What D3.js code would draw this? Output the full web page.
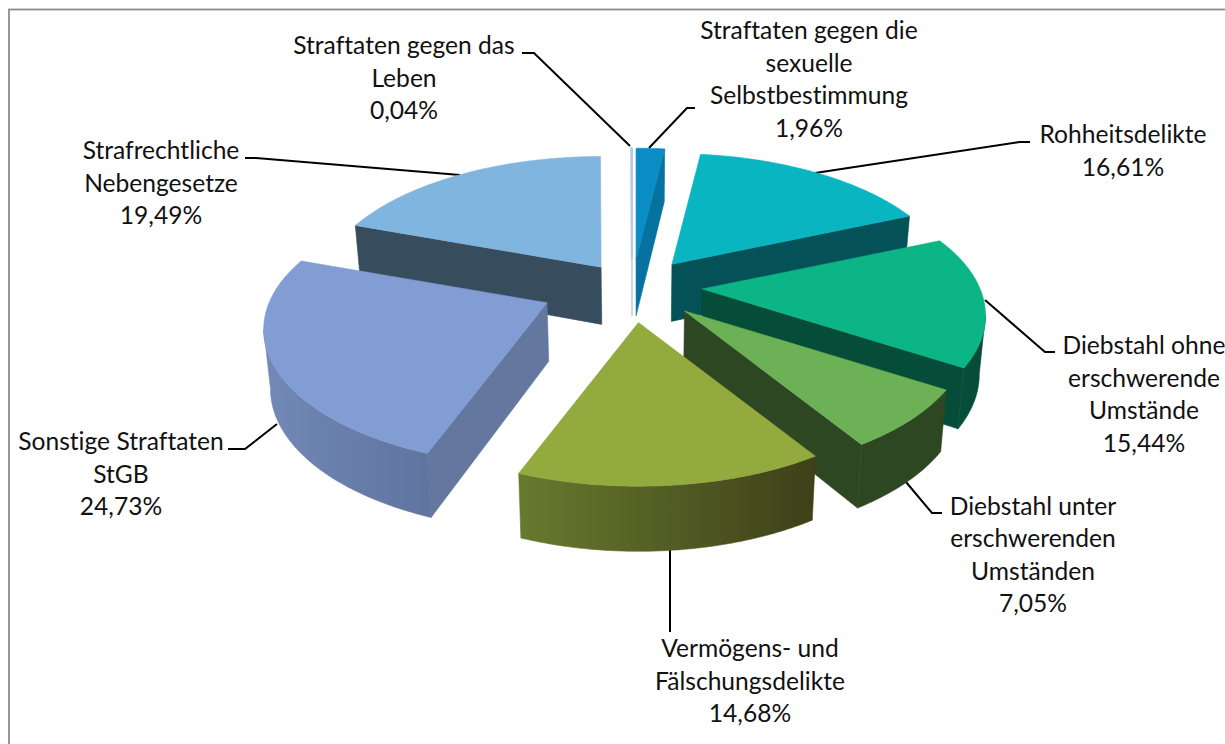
<!DOCTYPE html>
<html lang="de">
<head>
<meta charset="utf-8">
<title>Straftaten</title>
<script src="https://cdn.jsdelivr.net/npm/d3@7"></script>
<style>
html,body{margin:0;padding:0;background:#fff;overflow:hidden}
svg{display:block}
text{font-family:Lato,"Open Sans",sans-serif;font-size:24.6px;fill:#111;font-variant-ligatures:none}
</style>
</head>
<body>
<svg id="chart" width="1225" height="744"></svg>
<script>
// ---- data ----
const categories = [
  "Straftaten gegen die sexuelle Selbstbestimmung",
  "Rohheitsdelikte",
  "Diebstahl ohne erschwerende Umstände",
  "Diebstahl unter erschwerenden Umständen",
  "Vermögens- und Fälschungsdelikte",
  "Sonstige Straftaten StGB",
  "Strafrechtliche Nebengesetze",
  "Straftaten gegen das Leben"
];
const shares = [1.96, 16.61, 15.44, 7.05, 14.68, 24.73, 19.49, 0.04];
const shareLabels = ["1,96%","16,61%","15,44%","7,05%","14,68%","24,73%","19,49%","0,04%"];
const labelLines = [
  ["Straftaten gegen die","sexuelle","Selbstbestimmung"],
  ["Rohheitsdelikte"],
  ["Diebstahl ohne","erschwerende","Umstände"],
  ["Diebstahl unter","erschwerenden","Umständen"],
  ["Vermögens- und","Fälschungsdelikte"],
  ["Sonstige Straftaten","StGB"],
  ["Strafrechtliche","Nebengesetze"],
  ["Straftaten gegen das","Leben"]
];

// ---- styling and layout ----
const topColors  = ["#0a8cc4","#08b5c1","#0cb585","#6cb155","#92aa3e","#829cd4","#80b5df","#b4c8e8"];
const faceColors = ["#0672a0","#045158","#054c39","#2d4723","#5a6a28","#64789f","#374c5d","#c8d6ec"];
const wallLeft   = ["#0672a0","#045158","#054c39","#2d4723","#677a2e","#7389b6","#374c5d","#c8d6ec"];
const wallRight  = ["#0672a0","#045158","#054c39","#2d4723","#3e4019","#5f749f","#374c5d","#c8d6ec"];
const explodeX = [.82, .83, .88, .93, .8, 1.17, .67, 1];
const explodeY = [.85, .85, 1.17, 1.10, 1.15, 1.25, .72, .85];
const labelCentre = [809,1123,1144,1033,750,121,161,404];
const labelTop    = [39,143,354,514.5,657,450,159,54];
const leaders = [
  [[695,108],[687,108],[649,148]],
  [[1030,142],[1020,142],[815,173]],
  [[1055,352],[1045,352],[985,300]],
  [[942,513],[932,513],[906,482]],
  [[670,550],[670,632]],
  [[228,449],[245,449],[277,424]],
  [[245,158],[256,158],[460,175]],
  [[522,53],[534,53],[630,146]]
];
const centre = {x:632, y:286}, explode = {x:80, y:32};
const radius = {x:278, y:132}, persp = 0.193;
const lineStep = 32.5;

// ---- geometry ----
const svg = d3.select("#chart");
const pie = d3.pie().sort(null).value(d => d);
const arcs = pie(shares);

function apexOf(arc, i){
  const mid = (arc.startAngle + arc.endAngle) / 2;
  return [centre.x + explode.x * explodeX[i] * Math.sin(mid),
          centre.y - explode.y * explodeY[i] * Math.cos(mid)];
}
function rimPoint(apex, a){
  const w = 1 + persp * Math.cos(a);
  return [apex[0] + radius.x * Math.sin(a) / w, apex[1] - radius.y * Math.cos(a) / w];
}
function lower(p){
  return [p[0] - (p[0] - 640) * 0.018, p[1] + 53 + 0.036 * (p[1] - 150)];
}
const poly = d3.line();

// ---- frame ----
svg.append("rect").attr("x",9).attr("y",9.5).attr("width",1400).attr("height",900)
  .attr("fill","none").attr("stroke","#8c8c8c").attr("stroke-width",1.8);

// ---- leader lines ----
svg.append("g").selectAll("path").data(leaders).join("path")
  .attr("d", d => poly(d)).attr("fill","none").attr("stroke","#000").attr("stroke-width",2);

// ---- slices, back to front ----
const defs = svg.append("defs");
const order = d3.range(arcs.length).sort((a,b) => {
  const ma = (arcs[a].startAngle + arcs[a].endAngle) / 2;
  const mb = (arcs[b].startAngle + arcs[b].endAngle) / 2;
  return d3.descending(Math.cos(ma), Math.cos(mb));
});
const slices = svg.append("g");

order.forEach(i => {
  const arc = arcs[i], apex = apexOf(arc, i);
  const g = slices.append("g").attr("data-name", categories[i]);
  const n = Math.max(2, Math.ceil((arc.endAngle - arc.startAngle) / 0.01));
  const angles = d3.range(n + 1).map(k => arc.startAngle + (arc.endAngle - arc.startAngle) * k / n);
  const rim = angles.map(a => rimPoint(apex, a));

  // cut faces that look towards the viewer
  const thin = i === 7;
  [[arc.startAngle, arc.startAngle - Math.PI/2], [arc.endAngle, arc.endAngle + Math.PI/2]].forEach(([a, normal]) => {
    if (Math.cos(normal) >= 0 && !thin) return;
    const c = rimPoint(apex, a);
    g.append("path").attr("d", poly([apex, c, lower(c), lower(apex)]) + "Z")
      .attr("fill", faceColors[i])
      .attr("stroke", faceColors[i]).attr("stroke-width", thin ? 1.6 : 0.6);
  });

  // outer wall: only the part of the rim that faces the viewer
  const front = rim.filter((p, k) => (k < n && rim[k+1][0] < p[0]) || (k > 0 && p[0] < rim[k-1][0]));
  if (front.length > 1 && !thin) {
    const id = "wall" + i;
    const xs = d3.extent(front, p => p[0]);
    const grad = defs.append("linearGradient").attr("id", id)
      .attr("gradientUnits","userSpaceOnUse")
      .attr("x1", xs[0]).attr("x2", xs[1]).attr("y1",0).attr("y2",0);
    grad.append("stop").attr("offset",0).attr("stop-color", wallLeft[i]);
    grad.append("stop").attr("offset",1).attr("stop-color", wallRight[i]);
    g.append("path").attr("d", poly(front.concat(front.map(lower).reverse())) + "Z")
      .attr("fill", `url(#${id})`).attr("stroke", `url(#${id})`).attr("stroke-width",0.6);
  }

  // top face
  g.append("path").attr("d", poly([apex].concat(rim)) + "Z")
    .attr("fill", topColors[i])
    .attr("stroke", topColors[i]).attr("stroke-width", thin ? 2 : 0.6);
});

// ---- labels ----
const labels = svg.append("g").selectAll("text").data(categories).join("text")
  .attr("text-anchor","middle")
  .attr("x", (d,i) => labelCentre[i])
  .attr("y", (d,i) => labelTop[i]);
labels.each(function(d,i){
  const t = d3.select(this);
  labelLines[i].concat(shareLabels[i]).forEach((line,k) => {
    t.append("tspan").attr("x", labelCentre[i]).attr("y", labelTop[i] + k * lineStep).text(line);
  });
});
</script>
</body>
</html>
